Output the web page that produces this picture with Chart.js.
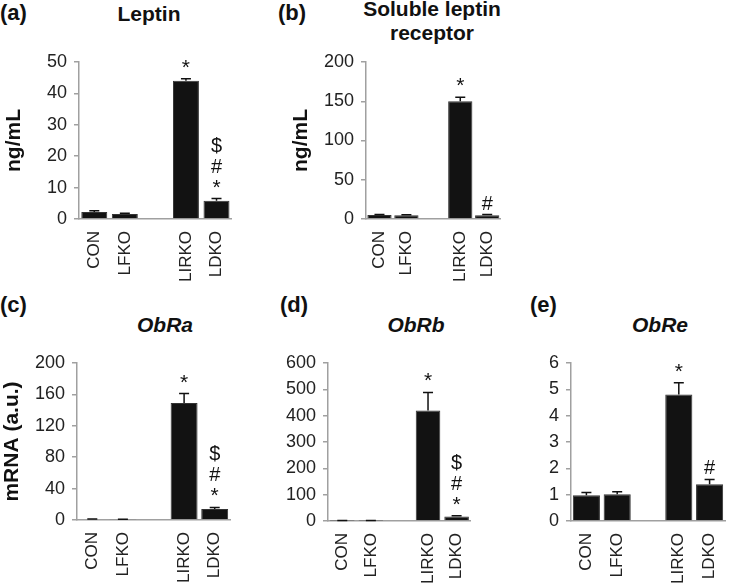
<!DOCTYPE html>
<html>
<head>
<meta charset="utf-8">
<script src="https://cdn.jsdelivr.net/npm/chart.js@4.4.1/dist/chart.umd.min.js"></script>
<style>
    body { margin: 0; background: #fff; width: 742px; height: 583px; position: relative; overflow: hidden; font-family: "Liberation Sans", Arial, sans-serif; }
    canvas { position: absolute; }
    .lab { position: absolute; font-weight: bold; font-size: 22px; color: #111; line-height: 24px; }
    .ttl { position: absolute; font-weight: bold; font-size: 21px; color: #111; text-align: center; line-height: 24px; }
    .ttl i { font-style: italic; }
</style>
</head>
<body>
<div class="lab" style="left:0;top:1px">(a)</div>
<div class="ttl" style="left:89px;top:2px;width:120px">Leptin</div>
<div class="lab" style="left:278px;top:1px">(b)</div>
<div class="ttl" style="left:342px;top:-3px;width:180px">Soluble leptin<br>receptor</div>
<div class="lab" style="left:0;top:293px">(c)</div>
<div class="ttl" style="left:105px;top:313px;width:120px"><i>ObRa</i></div>
<div class="lab" style="left:280px;top:293px">(d)</div>
<div class="ttl" style="left:356px;top:313px;width:120px"><i>ObRb</i></div>
<div class="lab" style="left:530px;top:293px">(e)</div>
<div class="ttl" style="left:600px;top:313px;width:120px"><i>ObRe</i></div>

<canvas id="cA" width="250" height="245" style="left:0;top:40px"></canvas>
<canvas id="cB" width="270" height="245" style="left:250px;top:40px"></canvas>
<canvas id="cC" width="250" height="293" style="left:0;top:290px"></canvas>
<canvas id="cD" width="240" height="293" style="left:250px;top:290px"></canvas>
<canvas id="cE" width="247" height="293" style="left:495px;top:290px"></canvas>

<script>
// groups (blank slot separates controls from knockouts)
const groups = ["CON", "LFKO", "", "LIRKO", "LDKO"];

// (a) Leptin, ng/mL
const leptin = [2.2, 1.6, null, 44.0, 5.8];
const leptinErr = [0.4, 0.25, null, 0.7, 0.7];
const leptinMarks = ["", "", "", "*", "$\n#\n*"];

// (b) Soluble leptin receptor, ng/mL
const sobR = [5.0, 4.8, null, 150, 4.8];
const sobRErr = [0.8, 0.7, null, 5, 0.8];
const sobRMarks = ["", "", "", "*", "#"];

// (c) ObRa mRNA
const obRa = [1.0, 0.6, null, 149, 14];
const obRaErr = [0.3, 0.2, null, 12, 2];
const obRaMarks = ["", "", "", "*", "$\n#\n*"];

// (d) ObRb mRNA
const obRb = [1.0, 1.0, null, 420, 17];
const obRbErr = [0.5, 0.5, null, 68, 3];
const obRbMarks = ["", "", "", "*", "$\n#\n*"];

// (e) ObRe mRNA
const obRe = [0.98, 1.02, null, 4.8, 1.4];
const obReErr = [0.1, 0.09, null, 0.45, 0.18];
const obReMarks = ["", "", "", "*", "#"];

Chart.defaults.font.family = '"Liberation Sans", Arial, sans-serif';
Chart.defaults.color = "#222";

// error bars (upward only) + significance marks
const extras = {
    id: "extras",
    afterDatasetsDraw(chart) {
        const ctx = chart.ctx;
        const ys = chart.scales.y;
        const meta = chart.getDatasetMeta(0);
        const ds = chart.data.datasets[0];
        ctx.save();
        meta.data.forEach((bar, i) => {
            const v = ds.data[i];
            if (v == null) return;
            const top = ys.getPixelForValue(v + ds.err[i]);
            ctx.strokeStyle = "#111";
            ctx.lineWidth = 1.5;
            ctx.beginPath();
            ctx.moveTo(bar.x, bar.y);
            ctx.lineTo(bar.x, top);
            ctx.moveTo(bar.x - 5, top);
            ctx.lineTo(bar.x + 5, top);
            ctx.stroke();

            const m = ds.marks[i];
            if (!m) return;
            ctx.fillStyle = "#111";
            ctx.textAlign = "center";
            ctx.textBaseline = "alphabetic";
            m.split("\n").reverse().forEach((s, k) => {
                ctx.font = (s === "*" ? "21px" : "20px") + ' "Liberation Sans", Arial, sans-serif';
                ctx.fillText(s, bar.x, top - 5 - k * 21);
            });
        });
        ctx.restore();
    }
};

function panel(id, values, errs, marks, yMax, yStep, yTitle, titlePad, yWidth, xHeight, pad, barPct) {
    new Chart(document.getElementById(id), {
        type: "bar",
        data: {
            labels: groups,
            datasets: [{
                data: values,
                err: errs,
                marks: marks,
                backgroundColor: "#121212",
                borderColor: "#333",
                borderWidth: 1,
                categoryPercentage: 1,
                barPercentage: barPct
            }]
        },
        options: {
            responsive: false,
            animation: false,
            layout: { padding: pad },
            plugins: { legend: { display: false }, tooltip: { enabled: false } },
            scales: {
                x: {
                    grid: { display: false, drawTicks: false },
                    border: { color: "#a0a0a0", width: 1.5 },
                    ticks: { autoSkip: false, minRotation: 90, maxRotation: 90, padding: 12, font: { size: 17 }, color: "#222" },
                    afterFit: s => { s.height = xHeight; }
                },
                y: {
                    min: 0,
                    max: yMax,
                    grid: { drawOnChartArea: false, drawTicks: true, tickLength: 5, color: "#a0a0a0", lineWidth: 1.5 },
                    border: { color: "#a0a0a0", width: 1.5 },
                    ticks: { stepSize: yStep, padding: 7, font: { size: 18 }, color: "#222" },
                    title: {
                        display: !!yTitle,
                        text: yTitle,
                        color: "#111",
                        font: { size: 21, weight: "bold" },
                        padding: { top: titlePad, bottom: 0 }
                    },
                    afterFit: s => { s.width = yWidth; }
                }
            }
        },
        plugins: [extras]
    });
}

panel("cA", leptin, leptinErr, leptinMarks, 50, 10, "ng/mL", 2, 79, 66, { top: 22, right: 11 }, 0.85);
panel("cB", sobR, sobRErr, sobRMarks, 200, 50, "ng/mL", 39, 116, 66, { top: 22, right: 4 }, 0.9);
panel("cC", obRa, obRaErr, obRaMarks, 200, 40, "mRNA (a.u.)", 0, 77, 63, { top: 73, right: 20 }, 0.88);
panel("cD", obRb, obRbErr, obRbMarks, 600, 100, "", 0, 78, 62, { top: 73, right: 10 }, 0.86);
panel("cE", obRe, obReErr, obReMarks, 6, 1, "", 0, 76, 62, { top: 73, right: 0 }, 0.88);
</script>
</body>
</html>
